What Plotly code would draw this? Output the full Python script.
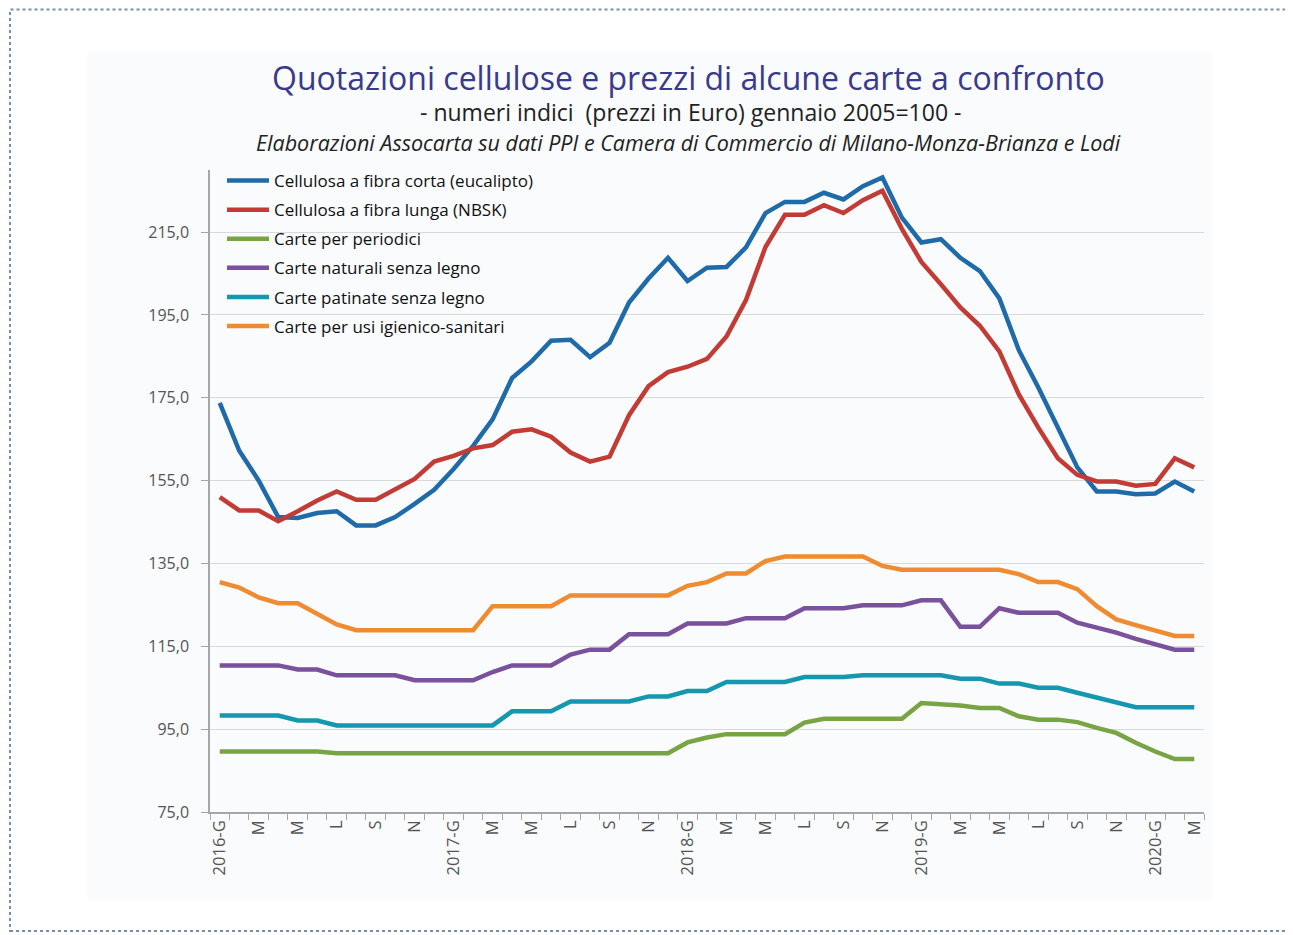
import plotly.graph_objects as go

# ---------------- data ----------------
month_codes = ["G", "F", "M", "A", "M", "G", "L", "A", "S", "O", "N", "D"]
years = [2016, 2017, 2018, 2019, 2020]
n_months = 51  # Jan 2016 .. Mar 2020

months = []
for k in range(n_months):
    y = years[k // 12]
    m = month_codes[k % 12]
    months.append(f"{y}-{m}" if k % 12 == 0 else m)

series_names = [
    "Cellulosa a fibra corta (eucalipto)",
    "Cellulosa a fibra lunga (NBSK)",
    "Carte per periodici",
    "Carte naturali senza legno",
    "Carte patinate senza legno",
    "Carte per usi igienico-sanitari",
]

eucalipto = [173.8, 162.2, 155.0, 146.2, 146.0, 147.2, 147.6, 144.2, 144.2, 146.2,
             149.4, 152.8, 157.8, 163.4, 169.8, 179.8, 183.8, 188.8, 189.0, 184.8,
             188.3, 198.0, 203.8, 208.8, 203.2, 206.4, 206.6, 211.3, 219.6, 222.3,
             222.3, 224.5, 222.9, 226.1, 228.2, 218.5, 212.5, 213.3, 208.8, 205.6,
             199.0, 186.5, 177.5, 168.0, 158.2, 152.4, 152.4, 151.7, 151.9, 154.8,
             152.4]

nbsk = [151.0, 147.8, 147.8, 145.2, 147.6, 150.2, 152.4, 150.4, 150.4, 152.8,
        155.4, 159.6, 161.0, 162.8, 163.6, 166.8, 167.4, 165.6, 161.8, 159.6,
        160.8, 170.8, 177.8, 181.2, 182.5, 184.4, 189.8, 198.6, 211.4, 219.2,
        219.2, 221.5, 219.6, 222.7, 225.0, 215.8, 207.8, 202.4, 196.8, 192.4,
        186.2, 175.8, 167.8, 160.4, 156.4, 154.8, 154.8, 153.8, 154.2, 160.4,
        158.2]

periodici = [89.6, 89.6, 89.6, 89.6, 89.6, 89.6, 89.2, 89.2, 89.2, 89.2,
             89.2, 89.2, 89.2, 89.2, 89.2, 89.2, 89.2, 89.2, 89.2, 89.2,
             89.2, 89.2, 89.2, 89.2, 91.8, 93.0, 93.8, 93.8, 93.8, 93.8,
             96.6, 97.5, 97.5, 97.5, 97.5, 97.5, 101.3, 101.1, 100.7, 100.1,
             100.1, 98.1, 97.3, 97.3, 96.7, 95.3, 94.1, 91.7, 89.6, 87.8,
             87.8]

naturali = [110.4, 110.4, 110.4, 110.4, 109.4, 109.4, 108.0, 108.0, 108.0, 108.0,
            106.8, 106.8, 106.8, 106.8, 108.8, 110.4, 110.4, 110.4, 113.0, 114.2,
            114.2, 117.9, 117.9, 117.9, 120.5, 120.5, 120.5, 121.8, 121.8, 121.8,
            124.2, 124.2, 124.2, 124.9, 124.9, 124.9, 126.1, 126.1, 119.7, 119.7,
            124.2, 123.1, 123.1, 123.1, 120.7, 119.5, 118.3, 116.8, 115.5, 114.2,
            114.2]

patinate = [98.3, 98.3, 98.3, 98.3, 97.1, 97.1, 95.9, 95.9, 95.9, 95.9,
            95.9, 95.9, 95.9, 95.9, 95.9, 99.3, 99.3, 99.3, 101.7, 101.7,
            101.7, 101.7, 102.9, 102.9, 104.2, 104.2, 106.4, 106.4, 106.4, 106.4,
            107.6, 107.6, 107.6, 108.0, 108.0, 108.0, 108.0, 108.0, 107.2, 107.2,
            106.0, 106.0, 105.0, 105.0, 103.8, 102.6, 101.4, 100.3, 100.3, 100.3,
            100.3]

igienico = [130.5, 129.2, 126.8, 125.4, 125.4, 123.0, 120.3, 118.9, 118.9, 118.9,
            118.9, 118.9, 118.9, 118.9, 124.7, 124.7, 124.7, 124.7, 127.3, 127.3,
            127.3, 127.3, 127.3, 127.3, 129.6, 130.5, 132.6, 132.6, 135.6, 136.7,
            136.7, 136.7, 136.7, 136.7, 134.4, 133.5, 133.5, 133.5, 133.5, 133.5,
            133.5, 132.4, 130.5, 130.5, 128.8, 124.7, 121.5, 120.1, 118.8, 117.5,
            117.5]

series_values = [eucalipto, nbsk, periodici, naturali, patinate, igienico]
series_colors = ["#1f6aa8", "#c23b34", "#78a443", "#7a519c", "#1597b0", "#ef8b30"]

y_ticks = [75, 95, 115, 135, 155, 175, 195, 215]

# ---------------- figure ----------------
OFF = 8  # page body margin offset
W, H = 1293 - OFF, 935 - OFF
ML, MT = 210 - OFF, 170 - OFF
MR = W - (1204 - OFF)
MB = H - (812 - OFF)
PW, PH = W - ML - MR, H - MT - MB


def px(xp):
    return (xp - OFF - ML) / PW


def py(yp):
    return (H - MB - (yp - OFF)) / PH


FONT = "'Open Sans', Lato, sans-serif"
x_idx = list(range(len(months)))

fig = go.Figure()
for name, vals, col in zip(series_names, series_values, series_colors):
    fig.add_trace(go.Scatter(
        x=x_idx, y=vals, mode="lines", name=name, legendgroup=name,
        line=dict(color=col, width=4.5),
    ))

fig.update_layout(
    width=W, height=H,
    margin=dict(l=ML, r=MR, t=MT, b=MB, pad=0),
    paper_bgcolor="white",
    plot_bgcolor="#f9fbfd",
    separators=",.",
    font=dict(family=FONT, color="#222222"),
    showlegend=True,
    legend=dict(
        x=px(222), y=py(163), xanchor="left", yanchor="top",
        bgcolor="rgba(0,0,0,0)", borderwidth=0,
        font=dict(size=17, color="#111111", family=FONT),
        traceorder="grouped", tracegroupgap=4,
        itemwidth=42,
    ),
)

fig.update_xaxes(
    range=[-0.5, len(months) - 0.5],
    tickmode="array",
    tickvals=x_idx[::2],
    ticktext=months[::2],
    tickangle=-90,
    ticks="",
    tickfont=dict(size=16.5, color="#555555", family=FONT),
    minor=dict(
        tickmode="array",
        tickvals=[i - 0.5 for i in range(len(months) + 1)],
        ticks="outside", ticklen=6, tickcolor="#a6a6a6", tickwidth=1,
        showgrid=False,
    ),
    showline=True, linecolor="#a6a6a6", linewidth=1.5,
    showgrid=False, zeroline=False,
)

fig.update_yaxes(
    range=[75, 230],
    tickmode="array",
    tickvals=y_ticks,
    tickformat=".1f",
    ticks="outside", ticklen=7, tickcolor="#a6a6a6", tickwidth=1,
    ticklabelstandoff=9,
    tickfont=dict(size=16, color="#555555", family=FONT),
    showline=True, linecolor="#a6a6a6", linewidth=1.5,
    showgrid=True, gridcolor="#d9d9d9", gridwidth=1.2,
    zeroline=False,
)

# background panel and dotted frame
fig.add_shape(type="rect", xref="paper", yref="paper",
              x0=px(87), x1=px(1212), y0=py(900), y1=py(52),
              fillcolor="#f9fbfd", line=dict(width=0), layer="below")
fig.add_shape(type="rect", xref="paper", yref="paper",
              x0=px(10), x1=px(1291), y0=py(931), y1=py(9.5),
              fillcolor="rgba(0,0,0,0)",
              line=dict(color="#6f90b3", width=2, dash="dot"), layer="above")

# titles
fig.add_annotation(text="Quotazioni cellulose e prezzi di alcune carte a confronto",
                   xref="paper", yref="paper", x=px(688), y=py(77),
                   xanchor="center", yanchor="middle", showarrow=False,
                   font=dict(size=32, color="#3a3a8c", family=FONT))
fig.add_annotation(text="- numeri indici  (prezzi in Euro) gennaio 2005=100 -",
                   xref="paper", yref="paper", x=px(690), y=py(112),
                   xanchor="center", yanchor="middle", showarrow=False,
                   font=dict(size=23, color="#222222", family=FONT))
fig.add_annotation(text="<i>Elaborazioni Assocarta su dati PPI e Camera di Commercio di Milano-Monza-Brianza e Lodi</i>",
                   xref="paper", yref="paper", x=px(688), y=py(143),
                   xanchor="center", yanchor="middle", showarrow=False,
                   font=dict(size=21.5, color="#222222", family=FONT))

fig.write_html("out.html")
